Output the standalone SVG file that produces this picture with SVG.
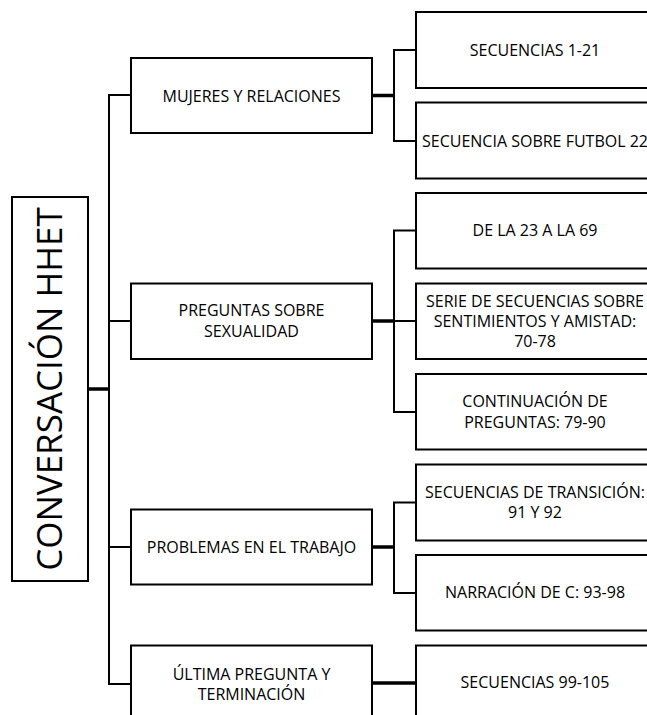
<svg xmlns="http://www.w3.org/2000/svg" width="647" height="715" viewBox="0 0 647 715">
  <style>
    .box { fill: #fff; stroke: #000; stroke-width: 2; }
    .lbl { font-family: "Open Sans", "Liberation Sans", sans-serif; font-size: 16px; fill: #000; text-anchor: middle; }
    .root { font-family: "Open Sans", "Liberation Sans", sans-serif; font-size: 35px; fill: #000; text-anchor: middle; }
    .thin { fill: none; stroke: #000; stroke-width: 2; }
    .thick { fill: none; stroke: #000; stroke-width: 3.5; }
  </style>
  <rect width="647" height="715" fill="#fff"/>

  <!-- connectors -->
  <g id="connectors">
    <!-- root to trunk -->
    <line class="thick" x1="88" y1="389" x2="109" y2="389"/>
    <path class="thin" d="M131 95 H109 V684 H131 M109 321 H131 M109 547 H131"/>
    <!-- level 1 to level 2 -->
    <line class="thick" x1="372" y1="95.5" x2="394" y2="95.5"/>
    <path class="thin" d="M416 50 H394 V141 H416"/>
    <line class="thick" x1="372" y1="321" x2="394" y2="321"/>
    <path class="thin" d="M416 230.5 H394 V412 H416 M394 321 H416"/>
    <line class="thick" x1="372" y1="547" x2="394" y2="547"/>
    <path class="thin" d="M416 502.5 H394 V593 H416"/>
    <line class="thick" x1="372" y1="683" x2="416" y2="683"/>
  </g>

  <!-- root -->
  <g id="root">
    <rect class="box" x="12" y="197" width="76" height="384"/>
    <text class="root" transform="translate(62 389) rotate(-90)">CONVERSACIÓN HHET</text>
  </g>

  <!-- level 1 -->
  <g id="mujeres">
    <rect class="box" x="131" y="58" width="241" height="75"/>
    <text class="lbl" x="251.5" y="101.5">MUJERES Y RELACIONES</text>
  </g>
  <g id="preguntas">
    <rect class="box" x="131" y="283.5" width="241" height="75.5"/>
    <text class="lbl" x="251.5" y="316">PREGUNTAS SOBRE</text>
    <text class="lbl" x="251.5" y="337">SEXUALIDAD</text>
  </g>
  <g id="problemas">
    <rect class="box" x="131" y="509.5" width="241" height="75"/>
    <text class="lbl" x="251.5" y="553">PROBLEMAS EN EL TRABAJO</text>
  </g>
  <g id="ultima">
    <rect class="box" x="131" y="645.5" width="241" height="76"/>
    <text class="lbl" x="251.5" y="680">ÚLTIMA PREGUNTA Y</text>
    <text class="lbl" x="251.5" y="700">TERMINACIÓN</text>
  </g>

  <!-- level 2 -->
  <g id="sec1">
    <rect class="box" x="416" y="12" width="240" height="76"/>
    <text class="lbl" x="535" y="56">SECUENCIAS 1-21</text>
  </g>
  <g id="futbol">
    <rect class="box" x="416" y="102.5" width="240" height="76"/>
    <text class="lbl" x="535" y="147">SECUENCIA SOBRE FUTBOL 22</text>
  </g>
  <g id="de23">
    <rect class="box" x="416" y="193" width="240" height="75.5"/>
    <text class="lbl" x="535" y="236">DE LA 23 A LA 69</text>
  </g>
  <g id="serie">
    <rect class="box" x="416" y="283.5" width="240" height="75.5"/>
    <text class="lbl" x="535" y="307">SERIE DE SECUENCIAS SOBRE</text>
    <text class="lbl" x="535" y="327">SENTIMIENTOS Y AMISTAD:</text>
    <text class="lbl" x="535" y="347">70-78</text>
  </g>
  <g id="continuacion">
    <rect class="box" x="416" y="374" width="240" height="75.5"/>
    <text class="lbl" x="535" y="407">CONTINUACIÓN DE</text>
    <text class="lbl" x="535" y="428">PREGUNTAS: 79-90</text>
  </g>
  <g id="transicion">
    <rect class="box" x="416" y="464.5" width="240" height="76"/>
    <text class="lbl" x="535" y="498">SECUENCIAS DE TRANSICIÓN:</text>
    <text class="lbl" x="535" y="518">91 Y 92</text>
  </g>
  <g id="narracion">
    <rect class="box" x="416" y="555" width="240" height="75.5"/>
    <text class="lbl" x="535" y="598">NARRACIÓN DE C: 93-98</text>
  </g>
  <g id="sec99">
    <rect class="box" x="416" y="645.5" width="240" height="76"/>
    <text class="lbl" x="535" y="688">SECUENCIAS 99-105</text>
  </g>
</svg>
